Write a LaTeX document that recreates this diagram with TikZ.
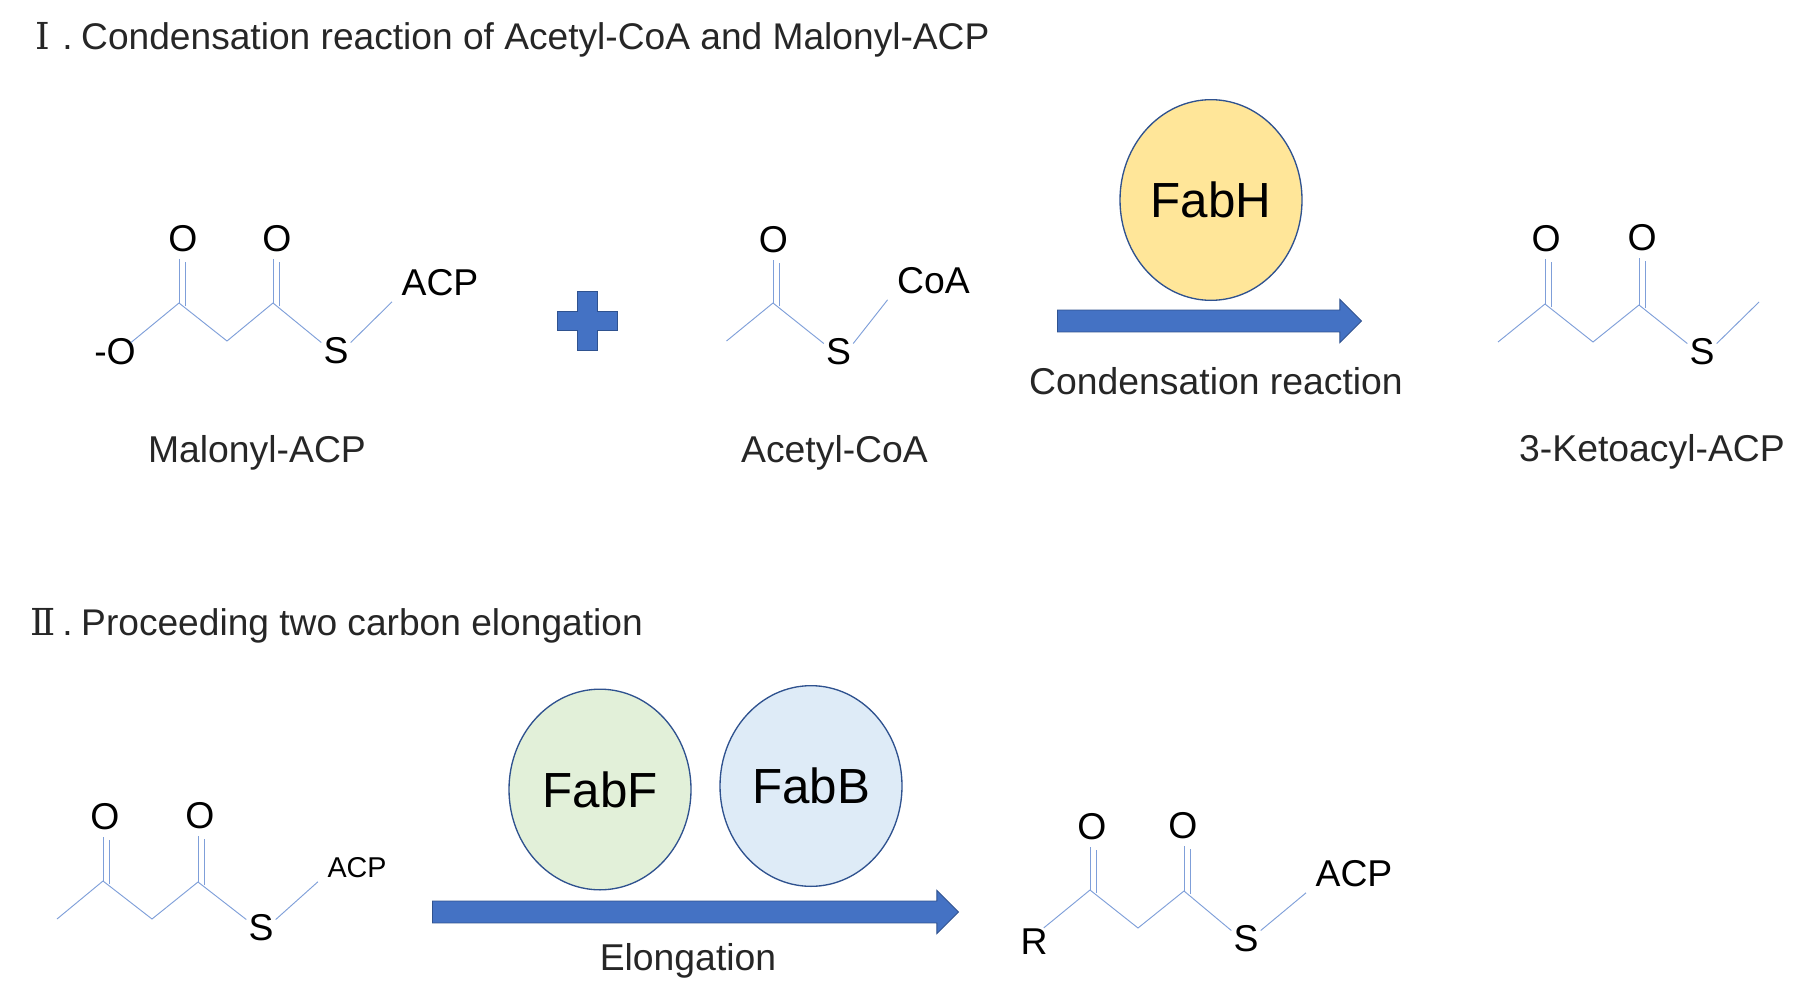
\documentclass[tikz,border=0pt]{standalone}
\usepackage{fontspec}
\setmainfont{Liberation Sans}
\newfontfamily\numeral{DejaVu Serif}
\usetikzlibrary{shapes.geometric, shapes.arrows}
\definecolor{bondblue}{HTML}{7F9FD9}
\definecolor{arrowblue}{HTML}{4472C4}
\definecolor{edgeblue}{HTML}{2F528F}
\definecolor{labelgray}{HTML}{262626}
\definecolor{fabyellow}{HTML}{FFE699}
\definecolor{fabgreen}{HTML}{E2F0D9}
\definecolor{fabblue}{HTML}{DEEBF7}
\newcommand{\partnum}[1]{\makebox[28.5pt]{\numeral #1}.\kern-3.8pt\relax}
\tikzset{
    bond/.style={bondblue, line width=0.7pt},
    atom/.style={inner sep=3pt, font=\fontsize{28}{28}\selectfont},
    sulfur/.style={atom, inner sep=1.5pt},
    ligand/.style={atom, inner xsep=7pt, inner ysep=4pt},
    smallligand/.style={ligand, inner ysep=2.5pt, font=\fontsize{21.5}{22}\selectfont},
    caption/.style={anchor=base, inner sep=0pt, text=labelgray, font=\fontsize{28}{28}\selectfont},
    heading/.style={caption, anchor=base west, font=\fontsize{27.85}{28}\selectfont},
    enzyme/.style={ellipse, draw=edgeblue, line width=1pt, minimum width=136.5pt, minimum height=150.5pt, inner sep=0pt, font=\fontsize{37}{37}\selectfont},
    flow/.style={single arrow, draw=edgeblue, fill=arrowblue, line width=0.6pt, inner sep=7.9pt,
        single arrow head extend=8pt, single arrow head indent=0pt},
    plusarm/.style={fill=arrowblue, draw=edgeblue, line width=0.6pt}
}

\begin{document}
\begin{tikzpicture}[x=0.75pt, y=-0.75pt]
    \useasboundingbox (0,0) rectangle (1820,1003);

    % Part I: headings
    \node[heading] (headA) at (24,49) {\partnum{Ⅰ} Condensation reaction of Acetyl-CoA and Malonyl-ACP};
    \node[heading] (headB) at (24,635) {\partnum{Ⅱ} Proceeding two carbon elongation};

    % Malonyl-ACP
    \coordinate (ma1) at (179,303);
    \coordinate (ma2) at (227,341);
    \coordinate (ma3) at (273,303);
    \node[atom] (maO) at (115,352) {-O};
    \node[atom] (maOa) at (183,239) {O};
    \node[atom] (maOb) at (277,239) {O};
    \node[sulfur] (maS) at (336,351) {S};
    \node[ligand] (maR) at (440,283) {ACP};
    \draw[bond] ([shift={(-9,8)}]maO.north east) -- (ma1) -- (ma2) -- (ma3) -- (maS.150); % backbone
    \draw[bond] (maS.30) -- (maR.south west);
    \node[caption] (maName) at (257,462) {Malonyl-ACP};

    % Plus sign
    \draw[plusarm] (577,291) -- (597,291) -- (597,311) -- (617,311) -- (617,330) -- (597,330)
        -- (597,350) -- (577,350) -- (577,330) -- (557,330) -- (557,311) -- (577,311) -- cycle;

    % Acetyl-CoA
    \coordinate (ac0) at (726.5,341);
    \coordinate (ac1) at (773,303);
    \node[atom] (acOa) at (773.5,240) {O};
    \node[sulfur] (acS) at (838.5,352) {S};
    \node[ligand] (acR) at (933.5,281) {CoA};
    \draw[bond] (ac0) -- (ac1) -- (acS.150); % backbone
    \draw[bond] (acS.30) -- (acR.south west);
    \node[caption] (acName) at (834.5,462) {Acetyl-CoA};

    % Condensation step
    \node[enzyme, fill=fabyellow] (fabH) at (1211,200) {FabH};
    \node[flow, minimum height=228pt] (arrowA) at (1204,321) {};
    \node[caption] (arrowAName) at (1216,394) {Condensation reaction};

    % 3-Ketoacyl-ACP
    \coordinate (ke0) at (1498,342);
    \coordinate (ke1) at (1545,304);
    \coordinate (ke2) at (1593,342);
    \coordinate (ke3) at (1639,305);
    \coordinate (ke4) at (1759,302);
    \node[atom] (keOa) at (1546,239) {O};
    \node[atom] (keOb) at (1642,238) {O};
    \node[sulfur] (keS) at (1702,352) {S};
    \draw[bond] (ke0) -- (ke1) -- (ke2) -- (ke3) -- (keS.150); % backbone
    \draw[bond] (keS.30) -- (ke4);
    \node[caption] (keName) at (1652,461) {3-Ketoacyl-ACP};

    % Part II: left chain
    \coordinate (la0) at (57,919);
    \coordinate (la1) at (103,881);
    \coordinate (la2) at (152,919);
    \coordinate (la3) at (198,882);
    \node[atom] (laOa) at (105,817) {O};
    \node[atom] (laOb) at (200,816) {O};
    \node[sulfur] (laS) at (261,928) {S};
    \node[smallligand] (laR) at (357,868) {ACP};
    \draw[bond] (la0) -- (la1) -- (la2) -- (la3) -- (laS.150); % backbone
    \draw[bond] (laS.30) -- (laR.south west);

    % Elongation step
    \node[enzyme, fill=fabgreen] (fabF) at (600,789.5) {FabF};
    \node[enzyme, fill=fabblue] (fabB) at (811,786) {FabB};
    \node[flow, minimum height=394.5pt] (arrowB) at (690,912) {};
    \node[caption] (arrowBName) at (688,970) {Elongation};

    % Part II: right chain
    \coordinate (ra1) at (1090,890);
    \coordinate (ra2) at (1138,928);
    \coordinate (ra3) at (1184,891);
    \node[atom] (raX) at (1034,942) {R};
    \node[atom] (raOa) at (1092,827) {O};
    \node[atom] (raOb) at (1183,826) {O};
    \node[sulfur] (raS) at (1246,939) {S};
    \node[ligand] (raR) at (1354,874) {ACP};
    \draw[bond] ([shift={(-8,3)}]raX.north east) -- (ra1) -- (ra2) -- (ra3) -- (raS.150); % backbone
    \draw[bond] (raS.30) -- (raR.south west);

    % C=O double bonds
    \foreach \cn/\on in {ma1/maOa, ma3/maOb, ac1/acOa, ke1/keOa, ke3/keOb, la1/laOa, la3/laOb, ra1/raOa, ra3/raOb} {
        \draw[bond] (\cn) -- ([yshift=-2pt]\cn |- \on.south);
        \draw[bond] ([shift={(6,3)}]\cn) -- ([xshift=4.5pt, yshift=-4pt]\cn |- \on.south);
    }
\end{tikzpicture}
\end{document}
